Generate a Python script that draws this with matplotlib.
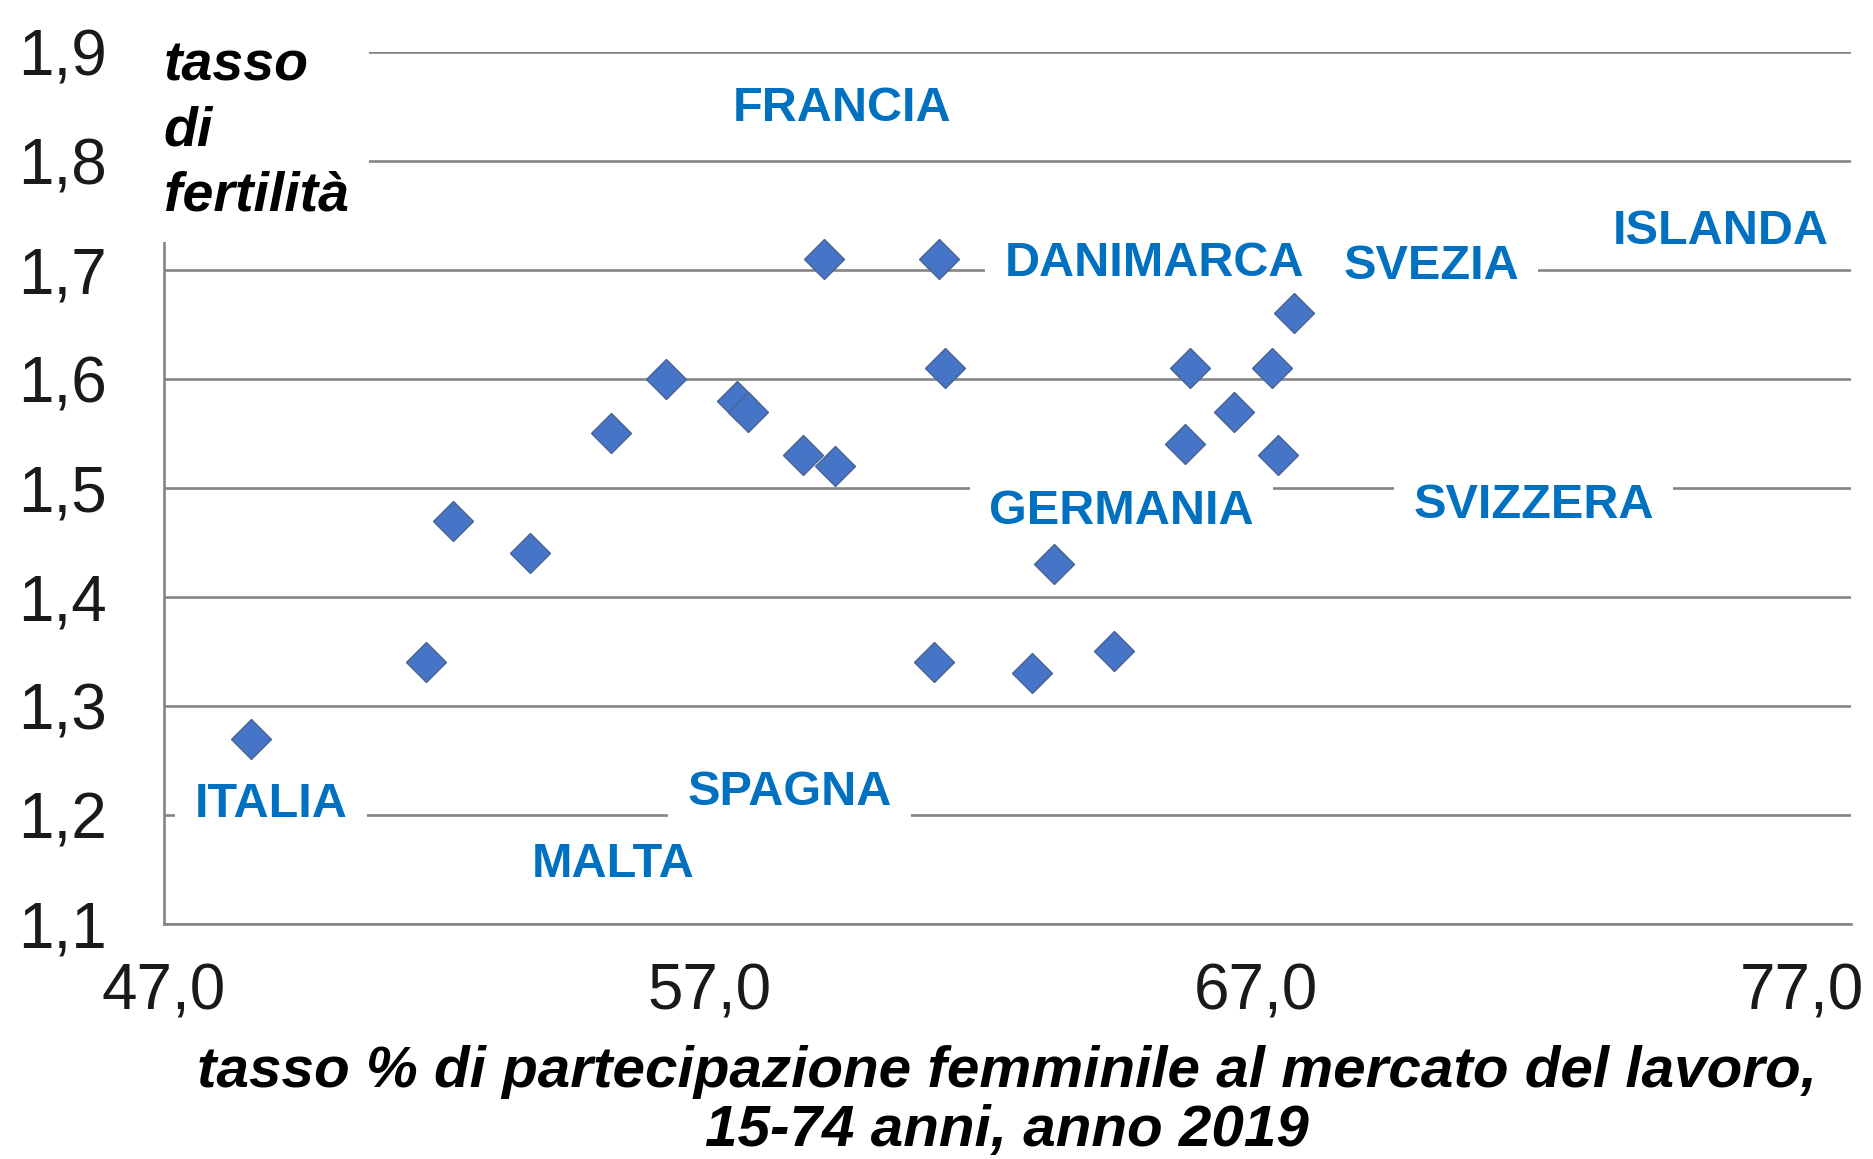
import matplotlib
matplotlib.use("Agg")
import matplotlib.pyplot as plt

# ---- data ----
participation = [48.6, 51.8, 52.3, 53.7, 55.2, 56.2, 57.5, 57.7, 58.7, 59.3,
                 59.1, 61.2, 61.3, 61.1, 62.9, 63.3, 64.4,
                 65.8, 65.7, 66.6, 67.3, 67.4, 67.7]
fertility = [1.27, 1.34, 1.47, 1.44, 1.55, 1.60, 1.58, 1.57, 1.53, 1.52,
             1.71, 1.71, 1.61, 1.34, 1.33, 1.43, 1.35,
             1.61, 1.54, 1.57, 1.61, 1.53, 1.66]

country_labels = ["FRANCIA", "DANIMARCA", "SVEZIA", "ISLANDA", "GERMANIA",
                  "SVIZZERA", "ITALIA", "SPAGNA", "MALTA"]

x_ticks = [47, 57, 67, 77]
x_tick_labels = ["47,0", "57,0", "67,0", "77,0"]
y_ticks = [1.1, 1.2, 1.3, 1.4, 1.5, 1.6, 1.7, 1.8, 1.9]
y_tick_labels = ["1,1", "1,2", "1,3", "1,4", "1,5", "1,6", "1,7", "1,8", "1,9"]

x_title = "tasso % di partecipazione femminile al mercato del lavoro,\n15-74 anni, anno 2019"
y_title = "tasso\ndi\nfertilità"

# label anchor positions (left edge, vertical centre) in data units
label_pos = [(57.42, 1.848), (62.40, 1.706), (68.60, 1.703), (73.54, 1.735),
             (62.12, 1.478), (69.88, 1.484), (47.57, 1.210), (56.59, 1.221),
             (53.74, 1.155)]
# labels whose white box interrupts a gridline in the reference
label_boxed = [True, True, True, False, True, True, True, True, False]

# ---- styling ----
FONT = "Liberation Sans"
plt.rcParams["font.family"] = [FONT, "DejaVu Sans"]
GRID = "#858585"
BLUE = "#0070C0"

fig = plt.figure(figsize=(18.74, 11.59), dpi=100)
ax = fig.add_axes([0.08735, 0.20276, 0.90038, 0.75263])

ax.set_xlim(47, 77.9)
ax.set_ylim(1.1, 1.9)

ax.yaxis.grid(True, color=GRID, linewidth=1.9, zorder=0.5)
ax.xaxis.grid(False)
ax.set_axisbelow(True)

for s in ["top", "right"]:
    ax.spines[s].set_visible(False)
for s in ["left", "bottom"]:
    ax.spines[s].set_color(GRID)
    ax.spines[s].set_linewidth(1.9)

ax.set_xticks(x_ticks)
ax.set_xticklabels(x_tick_labels)
ax.set_yticks(y_ticks)
ax.set_yticklabels(y_tick_labels)
ax.tick_params(axis="both", length=0, labelsize=46, labelcolor="#1a1a1a")
ax.tick_params(axis="y", pad=41)
ax.tick_params(axis="x", pad=28)

ax.plot(participation, fertility, linestyle="none", marker="D", markersize=20,
        markerfacecolor="#4674C6", markeredgecolor="#4a6394", markeredgewidth=1.0,
        zorder=4, clip_on=False)

for name, (lx, ly), boxed in zip(country_labels, label_pos, label_boxed):
    bbox = dict(boxstyle="square,pad=0.40", fc="white", ec="none") if boxed else None
    ax.text(lx, ly, name, ha="left", va="center", fontsize=35, fontweight="bold",
            color=BLUE, zorder=3, bbox=bbox)

ax.text(47.0, 1.910, y_title, ha="left", va="top", fontsize=40,
        fontweight="bold", fontstyle="italic", color="black", linespacing=1.32,
        zorder=3, clip_on=False,
        bbox=dict(boxstyle="square,pad=0.36", fc="white", ec="none"))

ax.set_xlabel(x_title, fontsize=42, fontweight="bold", fontstyle="italic",
              color="black", linespacing=1.11, labelpad=16)

fig.savefig("out.png", dpi=100, facecolor="white")
